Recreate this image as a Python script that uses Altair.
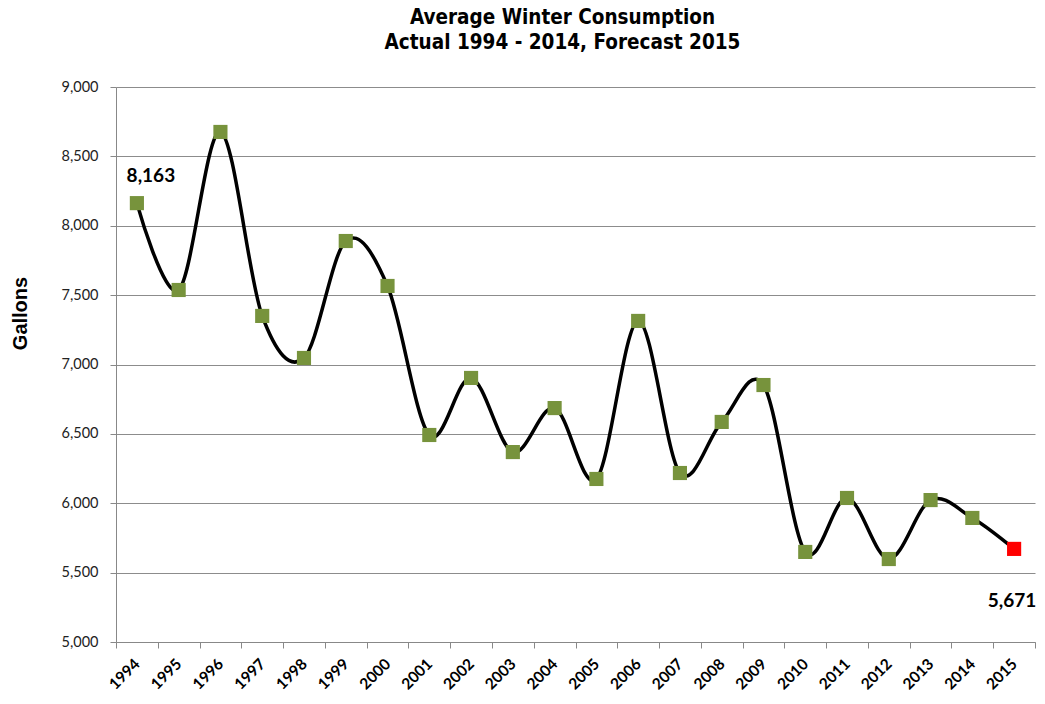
import altair as alt
import pandas as pd

years = [str(y) for y in range(1994, 2016)]
gallons = [8163, 7537, 8676, 7350, 7047, 7890, 7566, 6492, 6903, 6369, 6686,
           6175, 7314, 6218, 6586, 6852, 5649, 6038, 5598, 6023, 5894, 5671]
kind = ["Actual"] * 21 + ["Forecast"]

df = pd.DataFrame({"year": years, "gallons": gallons, "kind": kind})
lab = pd.DataFrame({"year": ["1994", "2015"], "gallons": [8163, 5671],
                    "text": ["8,163", "5,671"]})

font = "Lato"
x = alt.X("year:N", title=None, sort=years,
          scale=alt.Scale(type="band", paddingInner=0, paddingOuter=0),
          axis=alt.Axis(labelAngle=-45, labelAlign="right", labelBaseline="middle",
                        labelFont=font, labelFontWeight="bold", labelFontSize=15.5,
                        labelColor="#000", tickBand="extent", tickSize=6,
                        tickColor="#888", domainColor="#888", grid=False,
                        labelPadding=13))
y = alt.Y("gallons:Q", title="Gallons",
          scale=alt.Scale(domain=[5000, 9000], nice=False, zero=False),
          axis=alt.Axis(values=list(range(5000, 9001, 500)), format=",.0f",
                        labelFont=font, labelFontSize=14.5, labelColor="#222",
                        tickSize=6, tickColor="#888", domainColor="#888",
                        gridColor="#8c8c8c", gridWidth=1, labelPadding=12,
                        titleFont="Liberation Sans", titleFontSize=20,
                        titleFontWeight="bold", titleColor="#000",
                        titleX=-96, titleY=226, titleAngle=-90,
                        titleAlign="center", titleBaseline="middle"))

base = alt.Chart(df)
line = base.mark_line(color="black", strokeWidth=3.5, interpolate="cardinal", tension=0).encode(x=x, y=y)
pts = base.mark_square(size=200, opacity=1).encode(
    x=x, y=y,
    color=alt.Color("kind:N", scale=alt.Scale(domain=["Actual", "Forecast"],
                                              range=["#77933C", "#FF0000"]), legend=None))
t1 = alt.Chart(lab.iloc[[0]]).mark_text(font=font, fontWeight="bold", fontSize=19, dy=-27, dx=14, color="#000").encode(
    x=x, y=y, text="text:N")
t2 = alt.Chart(lab.iloc[[1]]).mark_text(font=font, fontWeight="bold", fontSize=19, dy=52, dx=-2, color="#000").encode(
    x=x, y=y, text="text:N")

chart = (line + pts + t1 + t2).properties(
    width=919, height=555,
    autosize=alt.AutoSizeParams(type="none"),
    padding={"left": 108, "top": 79, "right": 2, "bottom": 54},
    title=alt.TitleParams(["Average Winter Consumption", "Actual 1994 - 2014, Forecast 2015"],
                          font="DejaVu Sans Condensed", fontSize=20.5, fontWeight="bold",
                          color="#000", anchor="middle", offset=26, dx=-13, lineHeight=25),
).configure_view(stroke=None)

chart.save("out.html", embed_options={"renderer": "svg", "actions": False})
